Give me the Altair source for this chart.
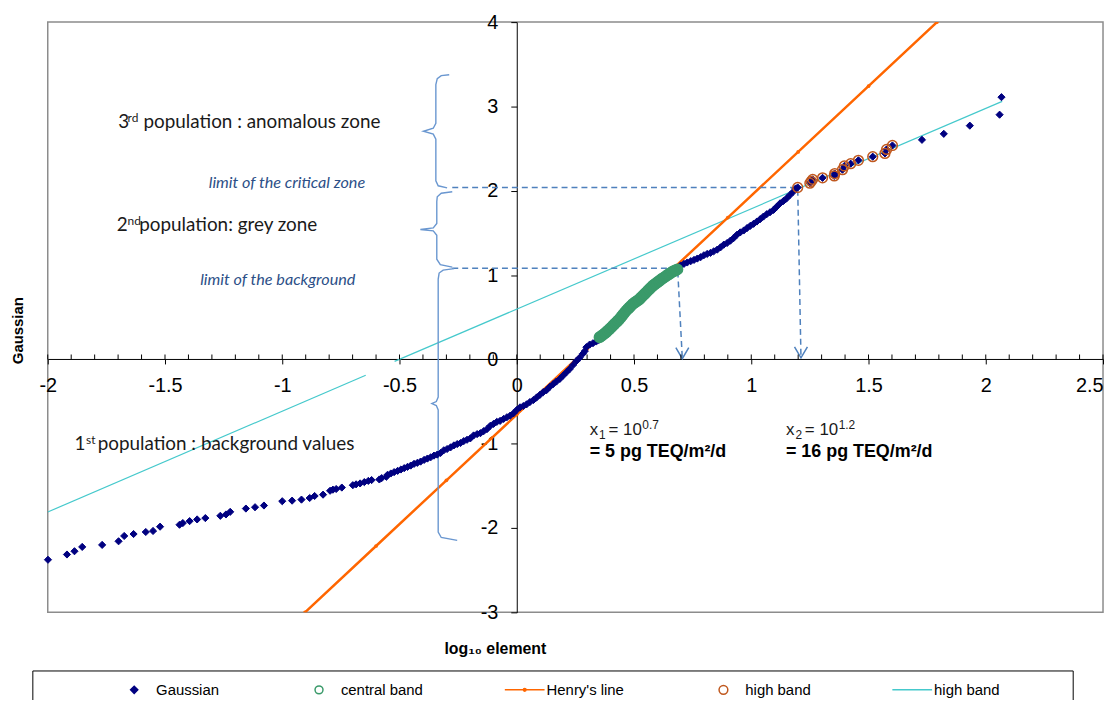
import altair as alt
import pandas as pd

# ---------------- data ----------------
# Gaussian series (log10 value, normal score), split by band
low = [(-1.999, -2.376), (-1.918, -2.314), (-1.886, -2.275), (-1.853, -2.224), (-1.768, -2.200),
       (-1.698, -2.157), (-1.674, -2.094), (-1.634, -2.071), (-1.582, -2.047), (-1.551, -2.035),
       (-1.521, -1.984), (-1.438, -1.961), (-1.424, -1.941), (-1.395, -1.918), (-1.363, -1.898),
       (-1.328, -1.882), (-1.264, -1.855), (-1.240, -1.839), (-1.222, -1.808), (-1.155, -1.769),
       (-1.116, -1.753), (-1.078, -1.733), (-1.000, -1.682), (-0.958, -1.675), (-0.918, -1.663),
       (-0.883, -1.644), (-0.862, -1.620), (-0.826, -1.604), (-0.796, -1.558), (-0.784, -1.545),
       (-0.770, -1.537), (-0.746, -1.520), (-0.699, -1.492), (-0.685, -1.482), (-0.668, -1.471),
       (-0.650, -1.455), (-0.633, -1.441), (-0.619, -1.431), (-0.586, -1.424), (-0.576, -1.408),
       (-0.556, -1.392), (-0.551, -1.369), (-0.537, -1.353), (-0.523, -1.337), (-0.508, -1.322),
       (-0.494, -1.306), (-0.480, -1.290), (-0.466, -1.275), (-0.452, -1.259), (-0.438, -1.239),
       (-0.424, -1.227), (-0.410, -1.212), (-0.395, -1.192), (-0.381, -1.176), (-0.367, -1.161),
       (-0.353, -1.141), (-0.339, -1.129), (-0.325, -1.110), (-0.311, -1.078), (-0.297, -1.063),
       (-0.282, -1.043), (-0.268, -1.020), (-0.254, -1.004), (-0.240, -0.992), (-0.226, -0.969),
       (-0.212, -0.953), (-0.198, -0.937), (-0.184, -0.902), (-0.169, -0.886), (-0.155, -0.875),
       (-0.141, -0.851), (-0.127, -0.827), (-0.113, -0.788), (-0.099, -0.765), (-0.085, -0.741),
       (-0.071, -0.729), (-0.056, -0.706), (-0.042, -0.686), (-0.028, -0.667), (-0.014, -0.640),
       (0.000, -0.600), (0.014, -0.569), (0.028, -0.553), (0.042, -0.533), (0.056, -0.506),
       (0.071, -0.482), (0.085, -0.451), (0.099, -0.420), (0.113, -0.388), (0.127, -0.365),
       (0.141, -0.325), (0.155, -0.294), (0.169, -0.263), (0.184, -0.231), (0.198, -0.192),
       (0.212, -0.153), (0.226, -0.114), (0.240, -0.067), (0.254, -0.020), (0.268, 0.020),
       (0.282, 0.067), (0.290, 0.098), (0.297, 0.145), (0.311, 0.176), (0.325, 0.192),
       (0.339, 0.212), (0.350, 0.231)]
central = [(0.353, 0.263), (0.360, 0.276), (0.367, 0.291), (0.374, 0.306), (0.381, 0.322),
           (0.388, 0.341), (0.396, 0.361), (0.403, 0.380), (0.410, 0.400), (0.417, 0.419),
           (0.424, 0.439), (0.431, 0.458), (0.438, 0.478), (0.445, 0.503), (0.452, 0.527),
           (0.459, 0.552), (0.466, 0.576), (0.473, 0.596), (0.480, 0.616), (0.487, 0.635),
           (0.494, 0.655), (0.501, 0.670), (0.508, 0.684), (0.516, 0.699), (0.523, 0.714),
           (0.530, 0.734), (0.537, 0.753), (0.544, 0.773), (0.551, 0.792), (0.558, 0.812),
           (0.565, 0.832), (0.572, 0.851), (0.579, 0.871), (0.586, 0.886), (0.593, 0.900),
           (0.600, 0.915), (0.607, 0.929), (0.614, 0.944), (0.621, 0.959), (0.629, 0.973),
           (0.636, 0.988), (0.643, 1.001), (0.650, 1.013), (0.657, 1.026), (0.664, 1.039),
           (0.671, 1.048), (0.678, 1.058), (0.685, 1.067)]
mid = [(0.699, 1.114), (0.713, 1.133), (0.727, 1.149), (0.742, 1.165), (0.756, 1.180),
       (0.770, 1.196), (0.784, 1.212), (0.798, 1.235), (0.812, 1.251), (0.826, 1.263),
       (0.840, 1.282), (0.855, 1.302), (0.869, 1.329), (0.883, 1.361), (0.897, 1.380),
       (0.911, 1.408), (0.925, 1.439), (0.939, 1.478), (0.953, 1.506), (0.968, 1.529),
       (0.982, 1.557), (0.996, 1.584), (1.010, 1.608), (1.024, 1.635), (1.038, 1.663),
       (1.052, 1.694), (1.066, 1.722), (1.080, 1.745), (1.095, 1.773), (1.109, 1.812),
       (1.123, 1.851), (1.137, 1.878), (1.151, 1.910), (1.165, 1.949), (1.179, 1.988),
       (1.189, 2.027)]
high = [(1.198, 2.039), (1.250, 2.090), (1.256, 2.112), (1.262, 2.135), (1.304, 2.153),
        (1.354, 2.176), (1.356, 2.204), (1.389, 2.250), (1.397, 2.294), (1.424, 2.321),
        (1.457, 2.361), (1.518, 2.404), (1.570, 2.443), (1.577, 2.490), (1.602, 2.537)]
tail = [(1.728, 2.604), (1.821, 2.675), (1.932, 2.772), (2.059, 2.902), (2.067, 3.110)]

# Henry's line and the fitted "high band" line
henry_x = [-0.903, -0.6, -0.3, 0.0, 0.3, 0.6, 0.9, 1.2, 1.5, 1.792]
henry_y = [-3.0, -2.213, -1.434, -0.655, 0.124, 0.903, 1.682, 2.461, 3.24, 4.0]
cyan_x = [-2.0, -0.644, -0.521, 2.07]
cyan_y = [-1.81, -0.188, -0.024, 3.06]
cyan_seg = [0, 0, 1, 1]

# dashed guide lines (two thresholds) and arrow tips
guide_x = [-0.275, 1.198, 1.212, -0.275, 0.686, 0.706]
guide_y = [2.039, 2.039, 0.018, 1.080, 1.080, 0.008]
guide_seg = [0, 0, 0, 1, 1, 1]
arrow_x = [1.212, 0.706]
arrow_y = [0.018, 0.008]

# curly braces
brace1 = [(-0.288, 3.376), (-0.322, 3.365), (-0.339, 3.329), (-0.345, 3.259), (-0.345, 2.800),
          (-0.356, 2.741), (-0.398, 2.706), (-0.356, 2.671), (-0.345, 2.612), (-0.345, 2.118),
          (-0.335, 2.059), (-0.297, 2.035)]
brace2 = [(-0.275, 1.988), (-0.322, 1.971), (-0.339, 1.929), (-0.341, 1.871), (-0.341, 1.612),
          (-0.356, 1.559), (-0.411, 1.541), (-0.356, 1.524), (-0.341, 1.471), (-0.341, 1.188),
          (-0.326, 1.124), (-0.275, 1.094)]
brace3 = [(-0.267, 1.076), (-0.314, 1.059), (-0.331, 1.024), (-0.335, 0.953), (-0.335, -0.447),
          (-0.343, -0.500), (-0.362, -0.524), (-0.343, -0.547), (-0.335, -0.600), (-0.335, -2.047),
          (-0.322, -2.112), (-0.254, -2.147)]

x_ticks = [-2, -1.5, -1, -0.5, 0, 0.5, 1, 1.5, 2, 2.5]
y_ticks = [-3, -2, -1, 0, 1, 2, 3, 4]
minor_ticks = [round(-2 + 0.1 * i, 1) for i in range(46)]

series_names = ["Gaussian", "central band", "Henry's line", "high band", "high band line"]

# ---------------- scales / axes ----------------
W, H = 1062, 594
xscale = alt.Scale(domain=[-2, 2.5], nice=False, zero=False)
yscale = alt.Scale(domain=[-3, 4], nice=False, zero=False)
lab_expr = "datum.value < 0 ? '-' + (-datum.value) : '' + datum.value"
FONT = "Liberation Sans"

xaxis = alt.Axis(values=x_ticks, orient="bottom", offset=-255, grid=False,
                 domainColor="black", domainWidth=1, tickColor="black", tickSize=5,
                 labelFont=FONT, labelFontSize=20, labelColor="black", labelPadding=22,
                 labelBaseline="middle", labelFlush=False, labelOverlap=False,
                 labelExpr=lab_expr,
                 labelAlign={"condition": {"test": "datum.value == 2.5", "value": "right"},
                             "value": "center"},
                 title="log₁₀ element", titleX=450, titleY=291, titleFont=FONT,
                 titleFontSize=16, titleFontWeight="bold", titleColor="black",
                 titleBaseline="middle", titleAlign="center")
yaxis = alt.Axis(values=y_ticks, orient="left", offset=-472, grid=False,
                 domainColor="black", domainWidth=1, tickColor="black", tickSize=6,
                 labelFont=FONT, labelFontSize=20, labelColor="black", labelPadding=13,
                 labelBaseline="middle", labelFlush=False, labelOverlap=False,
                 labelExpr=lab_expr,
                 title="Gaussian", titleX=-502, titleY=310, titleAngle=270, titleFont=FONT,
                 titleFontSize=15, titleFontWeight="bold", titleColor="black",
                 titleBaseline="middle", titleAlign="center")


def X():
    return alt.X("x:Q", scale=xscale, axis=xaxis)


def Y():
    return alt.Y("y:Q", scale=yscale, axis=yaxis)


diamond = "M0,-0.18L0.18,0L0,0.18L-0.18,0Z"
circ = "M-0.2,0A0.2,0.2 0 1,0 0.2,0A0.2,0.2 0 1,0 -0.2,0Z"
henry_sym = "M-1,0L1,0M-0.07,0A0.07,0.07 0 1,0 0.07,0A0.07,0.07 0 1,0 -0.07,0Z"
circ2 = "M-0.22,0A0.22,0.22 0 1,0 0.22,0A0.22,0.22 0 1,0 -0.22,0Z"
line_sym = "M-1,0L1,0"

shape_scale = alt.Scale(domain=series_names, range=[diamond, circ, henry_sym, circ2, line_sym])
fill_scale = alt.Scale(domain=series_names,
                       range=["#000080", "transparent", "#ff6600", "transparent", "transparent"])
stroke_scale = alt.Scale(domain=series_names,
                         range=["#000080", "#3a9a6a", "#ff6600", "#c0581e", "#45c9cc"])
legend = alt.Legend(orient="none", legendX=66, legendY=651, direction="horizontal", columns=5,
                    title=None, symbolSize=1600, symbolStrokeWidth=1.5, symbolOpacity=1,
                    labelFont=FONT, labelFontSize=15, labelColor="black", labelOffset=1,
                    columnPadding=79, padding=0, zindex=1,
                    labelExpr="datum.label == 'high band line' ? 'high band' : datum.label")


def series_enc():
    return dict(
        shape=alt.Shape("series:N", scale=shape_scale, legend=legend),
        fill=alt.Fill("series:N", scale=fill_scale, legend=legend),
        stroke=alt.Stroke("series:N", scale=stroke_scale, legend=legend),
    )


def pts(pairs, name):
    return pd.DataFrame({"x": [p[0] for p in pairs], "y": [p[1] for p in pairs],
                         "series": name})


gauss_df = pts(low + central + mid + high + tail, "Gaussian")
central_df = pts(central, "central band")
high_df = pts(high, "high band")

layers = []

# fitted high-band line (cyan)
layers.append(alt.Chart(pd.DataFrame({"x": cyan_x, "y": cyan_y, "s": cyan_seg}))
              .mark_line(color="#45c9cc", strokeWidth=1.2, clip=True)
              .encode(x=X(), y=Y(), detail="s:N"))
# Henry's line
henry_df = pd.DataFrame({"x": henry_x, "y": henry_y})
layers.append(alt.Chart(henry_df).mark_line(color="#ff6600", strokeWidth=2.5, clip=True)
              .encode(x=X(), y=Y()))
layers.append(alt.Chart(henry_df).mark_point(filled=True, color="#ff6600", size=14, opacity=1,
                                             clip=True)
              .encode(x=X(), y=Y()))
# dashed guides
guide_df = pd.DataFrame({"x": guide_x, "y": guide_y, "s": guide_seg,
                         "o": list(range(len(guide_x)))})
layers.append(alt.Chart(guide_df).mark_line(color="#4f81bd", strokeWidth=1.5, strokeDash=[6, 4])
              .encode(x=X(), y=Y(), detail="s:N", order="o:Q"))
layers.append(alt.Chart(pd.DataFrame({"x": arrow_x, "y": arrow_y}))
              .mark_point(shape="M-1,-1.7L0,0L1,-1.7", size=169, filled=False,
                          color="#4f81bd", strokeWidth=1.5, opacity=1)
              .encode(x=X(), y=Y()))
# braces
brace_rows = []
for b, br in enumerate([brace1, brace2, brace3]):
    for i, (bx, by) in enumerate(br):
        brace_rows.append({"x": bx, "y": by, "b": b, "o": i})
layers.append(alt.Chart(pd.DataFrame(brace_rows))
              .mark_line(color="#6a97d0", strokeWidth=1.4)
              .encode(x=X(), y=Y(), detail="b:N", order="o:Q"))
# minor ticks on the x axis (pointing up)
layers.append(alt.Chart(pd.DataFrame({"x": minor_ticks, "y": 0.0}))
              .mark_tick(orient="vertical", size=5, thickness=1, color="black", yOffset=-2.5,
                         opacity=1)
              .encode(x=X(), y=Y()))
# data points
layers.append(alt.Chart(gauss_df).mark_point(filled=True, size=1600, strokeWidth=1.0, opacity=1)
              .encode(x=X(), y=Y(), **series_enc()))
layers.append(alt.Chart(central_df).mark_point(filled=False, size=2000, strokeWidth=3, opacity=1)
              .encode(x=X(), y=Y(), **series_enc()))
layers.append(alt.Chart(high_df).mark_point(filled=False, size=2000, strokeWidth=1.5, opacity=1)
              .encode(x=X(), y=Y(), **series_enc()))


# ---------------- annotations ----------------
def txt(x, y, s, dx=0, dy=0, size=19, font="Lato", color="#1a1a1a", weight="normal",
        style="normal", align="left", baseline="alphabetic"):
    df = pd.DataFrame({"x": [x], "y": [y], "t": [s]})
    return (alt.Chart(df)
            .mark_text(dx=dx, dy=dy, fontSize=size, font=font, color=color, fontWeight=weight,
                       fontStyle=style, align=align, baseline=baseline)
            .encode(x=X(), y=Y(), text="t:N"))


BLUE_T = "#2c4f87"
pop3 = (-1.699, 2.741)
pop2 = (-1.706, 1.518)
pop1 = (-1.886, -1.071)
layers += [
    txt(*pop3, "3"), txt(*pop3, "rd", dx=9.3, dy=-6, size=12),
    txt(*pop3, "population : anomalous zone", dx=25.3),
    txt(*pop2, "2"), txt(*pop2, "nd", dx=11, dy=-6, size=12),
    txt(*pop2, "population: grey zone", dx=22.7),
    txt(*pop1, "1"), txt(*pop1, "st", dx=11.7, dy=-6, size=12),
    txt(*pop1, "population : background values", dx=23.3),
    txt(-0.980, 2.086, "limit of the critical zone", size=16.3, style="italic", color=BLUE_T,
        align="center", baseline="middle"),
    txt(-1.019, 0.938, "limit of the background", size=16.3, style="italic", color=BLUE_T,
        align="center", baseline="middle"),
]
for ax, sub, sup, val in [(0.311, "1", "0.7", "= 5 pg TEQ/m²/d"),
                          (1.148, "2", "1.2", "= 16 pg TEQ/m²/d")]:
    layers += [
        txt(ax, -0.9, "x", size=17, font=FONT),
        txt(ax, -0.9, sub, dx=9.5, dy=4, size=12, font=FONT),
        txt(ax, -0.9, "= 10", dx=19, size=17, font=FONT),
        txt(ax, -0.9, sup, dx=53, dy=-6, size=12, font=FONT),
        txt(ax, -1.157, val, size=18, font=FONT, weight="bold", color="black"),
    ]

# legend frame
layers.append(alt.Chart(pd.DataFrame({"a": [0]}))
              .mark_rect(fill="transparent", stroke="black", strokeWidth=1)
              .encode(x=alt.value(-15), x2=alt.value(1032), y=alt.value(653), y2=alt.value(720)))

chart = (alt.layer(*layers)
         .properties(width=W, height=H, autosize=alt.AutoSizeParams(type="none"),
                     padding={"left": 40, "top": 12, "right": 2, "bottom": 86},
                     background="white")
         .configure_view(stroke="#8c8c8c", strokeWidth=1.5))

chart.save("out.html", embed_options={"renderer": "svg", "actions": False})
